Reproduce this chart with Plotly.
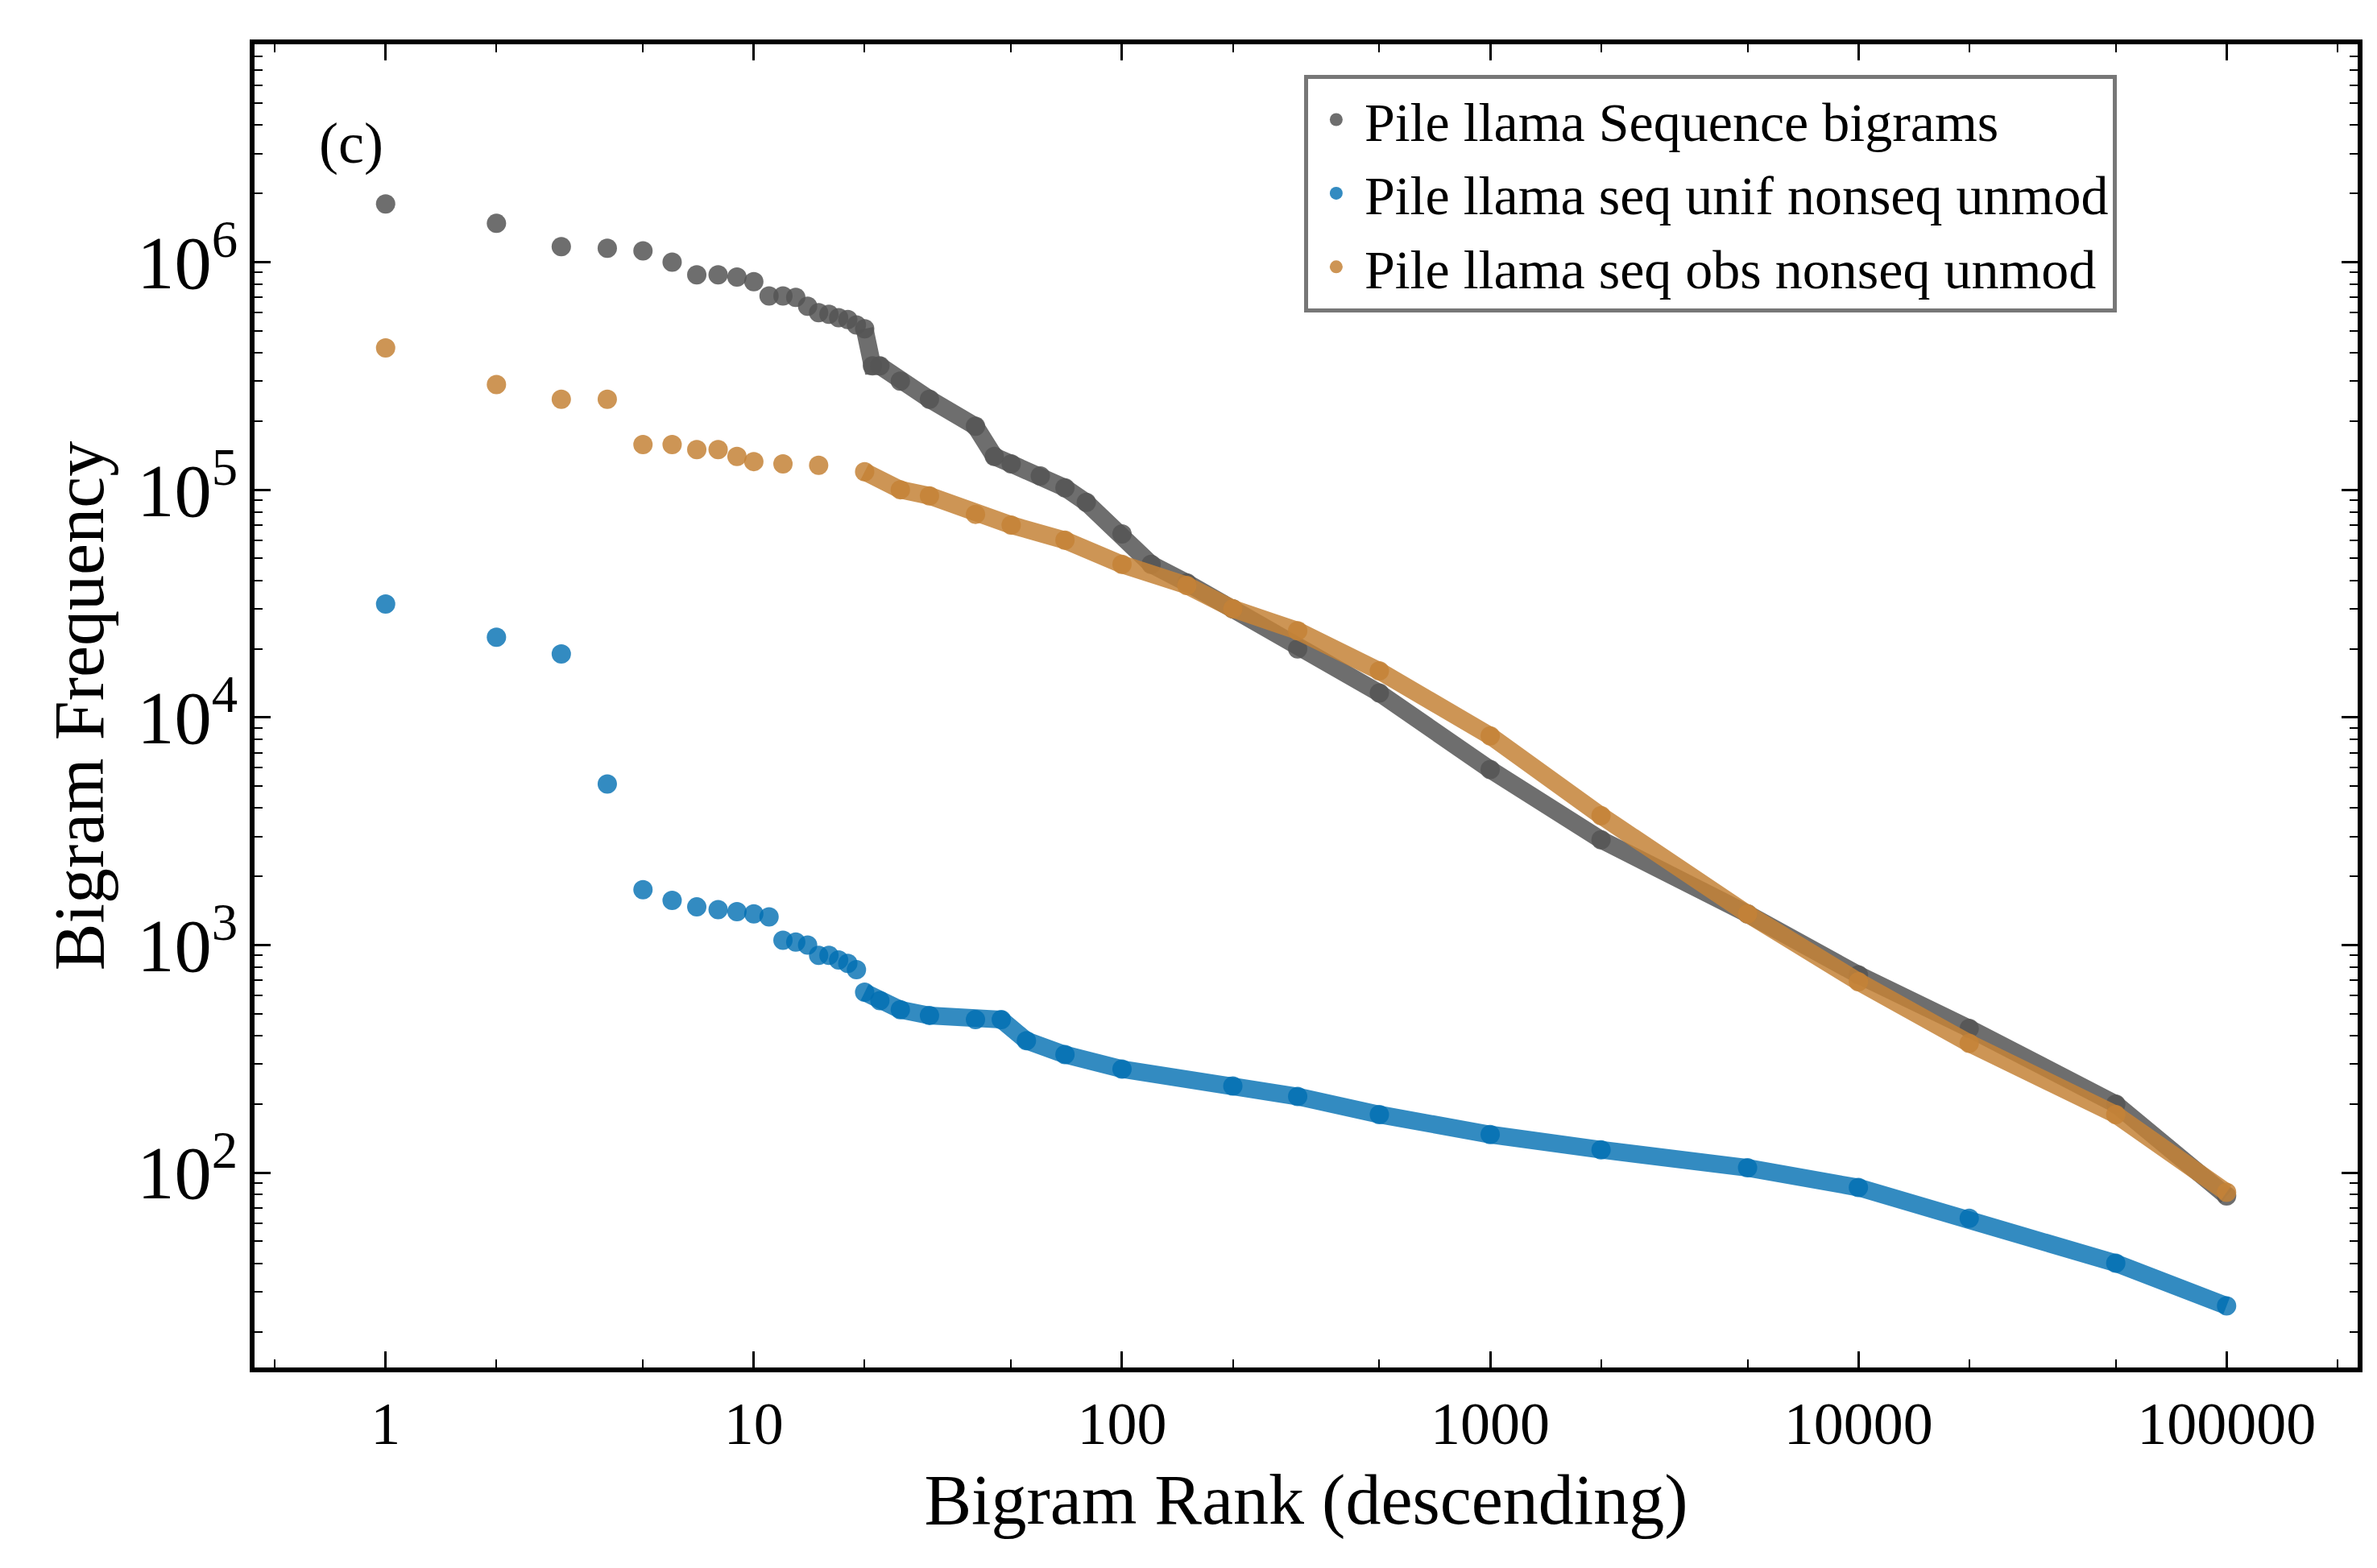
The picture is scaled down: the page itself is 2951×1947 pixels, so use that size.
import plotly.graph_objects as go

# ranks / frequencies
gray_rank = [1, 2, 3, 4, 5, 6, 7, 8, 9, 10, 11, 12, 13, 14, 15, 16, 17, 18, 19, 20,
             21, 22, 25, 30, 40, 45, 50, 60, 70, 80, 100, 120, 150, 200, 300, 500,
             1000, 2000, 5000, 10000, 20000, 50000, 100000]
gray_freq = [1.8e6, 1.48e6, 1.17e6, 1.15e6, 1.12e6, 1.0e6, 8.8e5, 8.8e5, 8.6e5, 8.2e5,
             7.1e5, 7.1e5, 7.0e5, 6.4e5, 6.0e5, 5.9e5, 5.7e5, 5.6e5, 5.3e5, 5.1e5,
             3.5e5, 3.5e5, 3.0e5, 2.5e5, 1.9e5, 1.4e5, 1.3e5, 1.15e5, 1.02e5, 8.8e4,
             6.4e4, 4.7e4, 3.9e4, 3.0e4, 2.0e4, 1.28e4, 5.9e3, 2.9e3, 1.37e3, 7.4e2,
             4.3e2, 2.0e2, 79]

orange_rank = [1, 2, 3, 4, 5, 6, 7, 8, 9, 10, 12, 15, 20, 25, 30, 40, 50, 70, 100,
               150, 200, 300, 500, 1000, 2000, 5000, 10000, 20000, 50000, 100000]
orange_freq = [4.2e5, 2.9e5, 2.5e5, 2.5e5, 1.58e5, 1.58e5, 1.5e5, 1.5e5, 1.4e5, 1.33e5,
               1.3e5, 1.28e5, 1.2e5, 1.0e5, 9.4e4, 7.8e4, 7.0e4, 6.0e4, 4.7e4, 3.8e4,
               3.0e4, 2.4e4, 1.6e4, 8.3e3, 3.7e3, 1.37e3, 6.9e2, 3.7e2, 1.8e2, 82]

blue_rank = [1, 2, 3, 4, 5, 6, 7, 8, 9, 10, 11, 12, 13, 14, 15, 16, 17, 18, 19, 20,
             22, 25, 30, 40, 47, 55, 70, 100, 200, 300, 500, 1000, 2000, 5000, 10000,
             20000, 50000, 100000]
blue_freq = [3.15e4, 2.25e4, 1.9e4, 5.1e3, 1.75e3, 1.57e3, 1.47e3, 1.43e3, 1.4e3, 1.37e3,
             1.33e3, 1.05e3, 1.03e3, 1.0e3, 9.0e2, 9.0e2, 8.6e2, 8.3e2, 7.8e2, 6.2e2,
             5.7e2, 5.2e2, 4.9e2, 4.7e2, 4.7e2, 3.8e2, 3.3e2, 2.85e2, 2.4e2, 2.16e2,
             1.8e2, 1.47e2, 1.26e2, 1.05e2, 86, 63, 40, 26]

series = [
    ("Pile llama Sequence bigrams", gray_rank, gray_freq, "rgba(85,85,85,0.85)"),
    ("Pile llama seq unif nonseq unmod", blue_rank, blue_freq, "rgba(0,110,178,0.8)"),
    ("Pile llama seq obs nonseq unmod", orange_rank, orange_freq, "rgba(196,130,55,0.85)"),
]

FONT = "Liberation Serif"
fig = go.Figure()
for name, r, f, c in series:
    tail = [i for i, v in enumerate(r) if v >= 20]
    fig.add_trace(go.Scatter(x=[r[i] for i in tail], y=[f[i] for i in tail],
                             mode="lines", line=dict(color=c, width=22),
                             showlegend=False, hoverinfo="skip"))
    fig.add_trace(go.Scatter(x=r, y=f, mode="markers", name=name,
                             marker=dict(color=c, size=24)))

axis_common = dict(showline=True, linecolor="black", linewidth=6, mirror="ticks",
                   ticks="inside", ticklen=20, tickwidth=3, tickcolor="black",
                   showgrid=False, zeroline=False,
                   minor=dict(ticks="inside", ticklen=10, tickwidth=2, tickcolor="black"),
                   tickfont=dict(size=74, family=FONT, color="black"))

fig.update_xaxes(type="log", range=[-0.356, 5.356],
                 tickvals=[1, 10, 100, 1000, 10000, 100000],
                 ticktext=["1", "10", "100", "1000", "10000", "100000"],
                 title=dict(text="Bigram Rank (descending)", font=dict(size=88, family=FONT, color="black"),
                            standoff=25),
                 **axis_common)
fig.update_yaxes(type="log", range=[1.144, 6.957], dtick=1, exponentformat="power",
                 title=dict(text="Bigram Frequency", font=dict(size=88, family=FONT, color="black"),
                            standoff=15),
                 **axis_common)

fig.add_annotation(text="(c)", xref="paper", yref="paper", x=0.03, y=0.925,
                   xanchor="left", yanchor="middle", showarrow=False,
                   font=dict(size=72, family=FONT, color="black"))

fig.update_layout(
    width=2951, height=1947,
    margin=dict(l=308, r=32, t=47, b=257),
    plot_bgcolor="white", paper_bgcolor="white",
    font=dict(family=FONT, color="black"),
    legend=dict(x=0.499, y=0.977, xanchor="left", yanchor="top",
                bgcolor="rgba(255,255,255,0.9)", bordercolor="#777777", borderwidth=5,
                font=dict(size=68, family=FONT, color="black"),
                itemsizing="trace", itemwidth=60),
)

fig.write_html("out.html")
